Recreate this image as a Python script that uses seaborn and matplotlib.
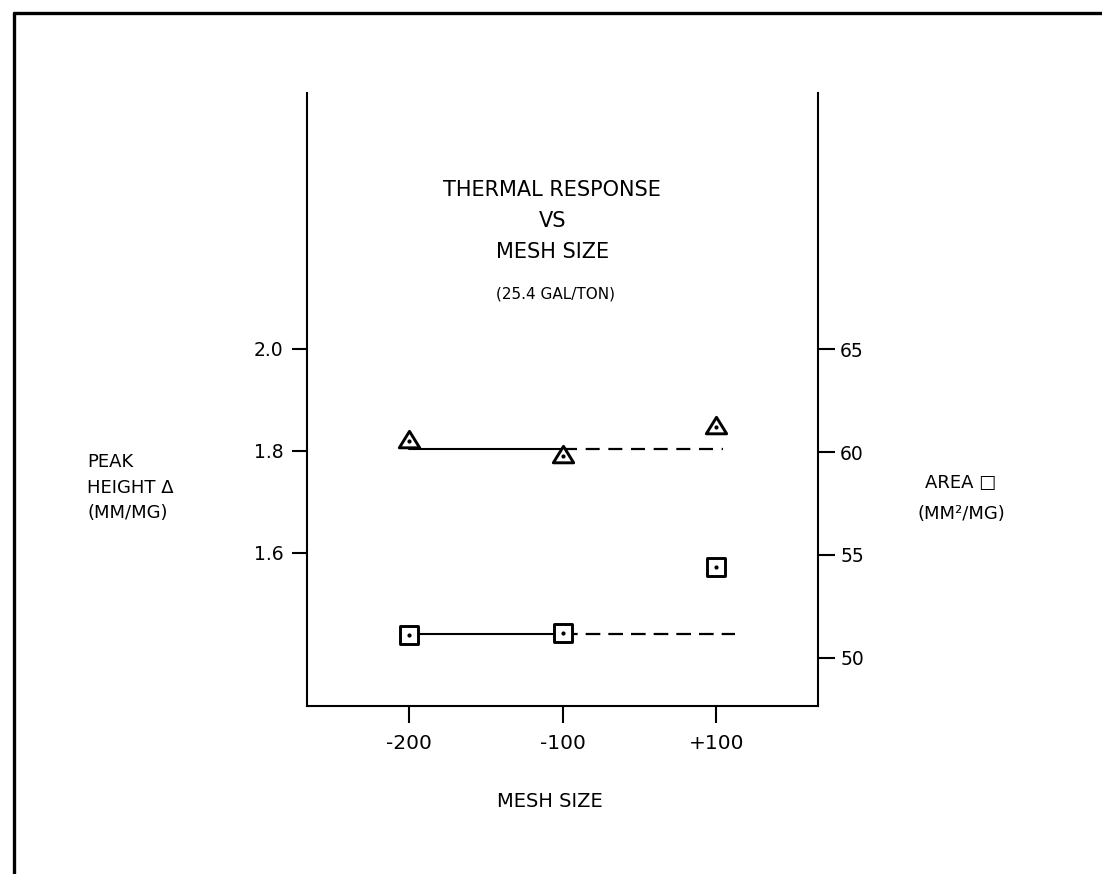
import numpy as np
import matplotlib
matplotlib.use("Agg")
import matplotlib.pyplot as plt
from matplotlib.path import Path
import seaborn as sns
from matplotlib.lines import Line2D

# ---- data ----
mesh_sizes = ["-200", "-100", "+100"]
peak_height = [1.819, 1.790, 1.846]      # mm/mg (triangles, left axis)
area = [51.09, 51.19, 54.41]             # mm^2/mg (squares, right axis)
peak_ref = 1.803                          # reference line through fine meshes
area_ref = 51.14

left_ticks = [1.6, 1.8, 2.0]
left_ticklabels = ["1.6", "1.8", "2.0"]
right_ticks = [50, 55, 60, 65]
right_ticklabels = ["50", "55", "60", "65"]

title_lines = "THERMAL RESPONSE\nVS\nMESH SIZE"
subtitle = "(25.4 GAL/TON)"
left_label = "PEAK\nHEIGHT \u0394\n(MM/MG)"
right_label = "AREA \u25A1\n(MM\u00B2/MG)"
x_label = "MESH SIZE"

# ---- style ----
sns.set_style("ticks")
plt.rcParams["font.family"] = ["DejaVu Sans"]
INK = "black"
SPINE_LW = 1.5

fig = plt.figure(figsize=(11.02, 8.74), dpi=100)
fig.patch.set_facecolor("white")
ax = fig.add_axes([0.2786, 0.1922, 0.4637, 0.7014])
ax2 = ax.twinx()

x = np.arange(len(mesh_sizes))

# reference lines: solid between the two finest meshes, dashed beyond
ax.plot(x[:2], [peak_ref, peak_ref], color=INK, lw=1.5, zorder=2)
ax.plot([x[1], x[2] + 0.04], [peak_ref, peak_ref], color=INK, lw=1.6,
        dashes=(6.3, 3.9), zorder=2)
ax2.plot(x[:2], [area_ref, area_ref], color=INK, lw=1.5, zorder=2)
ax2.plot([x[1], x[2] + 0.12], [area_ref, area_ref], color=INK, lw=1.6,
         dashes=(6.6, 3.6), zorder=2)

tri_path = Path([(-1.0, -0.62), (1.0, -0.62), (0.0, 1.0), (-1.0, -0.62)],
                [Path.MOVETO, Path.LINETO, Path.LINETO, Path.CLOSEPOLY])
sns.scatterplot(x=x, y=peak_height, ax=ax, marker=tri_path, s=215, color=INK,
                facecolor="white", edgecolor=INK, linewidth=2.1,
                joinstyle="round", zorder=3)
sns.scatterplot(x=x, y=peak_height, ax=ax, marker="o", s=9, color=INK,
                edgecolor=INK, linewidth=0, zorder=4)

sns.scatterplot(x=x, y=area, ax=ax2, marker="s", s=175, color=INK,
                facecolor="white", edgecolor=INK, linewidth=2.1,
                joinstyle="round", zorder=3)
sns.scatterplot(x=x, y=area, ax=ax2, marker="o", s=9, color=INK,
                edgecolor=INK, linewidth=0, zorder=4)

# ---- axes ----
ax.set_xlim(-0.66, 2.66)
ax.set_ylim(1.299, 2.501)
ax2.set_ylim(47.64, 77.49)

ax.set_xticks(x)
ax.set_xticklabels(mesh_sizes)
ax.set_yticks(left_ticks)
ax.set_yticklabels(left_ticklabels)
ax2.set_yticks(right_ticks)
ax2.set_yticklabels(right_ticklabels)

for s in ["top", "right"]:
    ax.spines[s].set_visible(False)
for s in ["top", "left", "bottom"]:
    ax2.spines[s].set_visible(False)
for a in (ax, ax2):
    for sp in a.spines.values():
        sp.set_linewidth(SPINE_LW)
        sp.set_color(INK)

ax.tick_params(axis="y", direction="out", length=11, width=SPINE_LW,
               pad=6, labelsize=13.5, colors=INK)
ax.tick_params(axis="x", direction="out", length=12.5, width=SPINE_LW,
               pad=8, labelsize=14.5, colors=INK)
ax2.tick_params(axis="y", direction="out", length=12, width=SPINE_LW,
                pad=4, labelsize=13.5, colors=INK)
ax.grid(False)
ax2.grid(False)

ax.set_xlabel(x_label, fontsize=14, color=INK)
ax.xaxis.set_label_coords(0.475, -0.14)

ax.set_ylabel(left_label, rotation=0, fontsize=13, color=INK,
              ha="left", va="center", multialignment="left",
              linespacing=1.55)
ax.yaxis.set_label_coords(-0.43, 0.356)

ax2.set_ylabel(right_label, rotation=0, fontsize=13, color=INK,
               ha="center", va="center", multialignment="center",
               linespacing=1.9)
ax2.yaxis.set_label_coords(1.28, 0.339)

# title block inside the plot
ax.text(0.48, (706 - 221) / 613, title_lines, transform=ax.transAxes,
        ha="center", va="center", fontsize=15, color=INK, linespacing=1.68)
ax.text(0.487, (706 - 294) / 613, subtitle, transform=ax.transAxes,
        ha="center", va="center", fontsize=11, color=INK)

# page frame (top and left edges)
fig.add_artist(Line2D([14 / 1102, 1.0], [1 - 13 / 874, 1 - 13 / 874],
                      transform=fig.transFigure, color=INK, lw=2.4))
fig.add_artist(Line2D([14 / 1102, 14 / 1102], [0.0, 1 - 13 / 874],
                      transform=fig.transFigure, color=INK, lw=2.4))

fig.savefig("out.png", dpi=100, facecolor="white")
